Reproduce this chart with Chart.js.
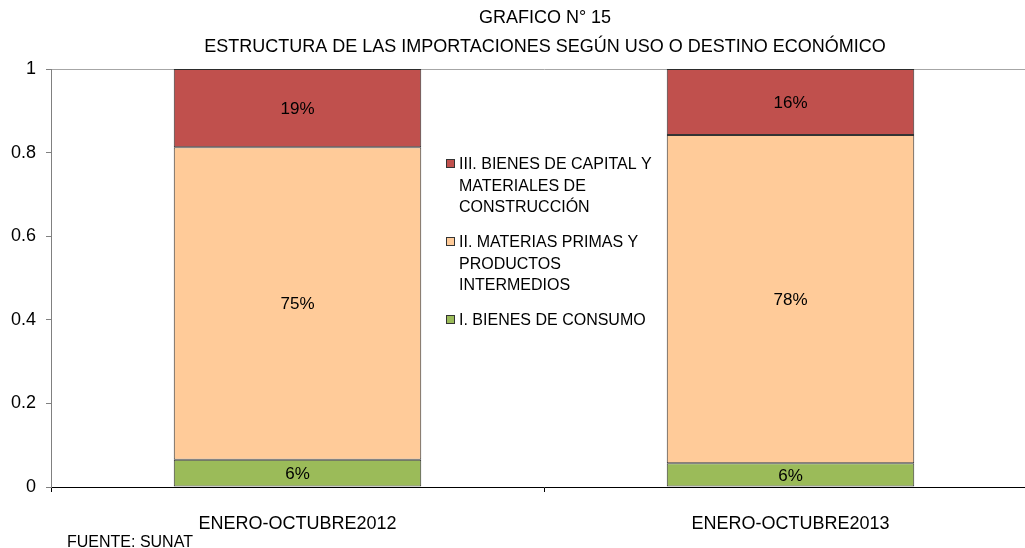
<!DOCTYPE html>
<html>
<head>
<meta charset="utf-8">
<script src="https://cdn.jsdelivr.net/npm/chart.js@4.4.0/dist/chart.umd.min.js"></script>
<style>
html,body{margin:0;padding:0;background:#fff;overflow:hidden;}
#wrap{position:relative;width:1045px;height:548px;}
</style>
</head>
<body>
<div id="wrap"><canvas id="c" width="1045" height="548"></canvas></div>
<script>
const categories = ['ENERO-OCTUBRE2012', 'ENERO-OCTUBRE2013'];
const consumo = [0.065, 0.057];
const materias = [0.748, 0.785];
const capital = [0.187, 0.158];
const labelsConsumo = ['6%', '6%'];
const labelsMaterias = ['75%', '78%'];
const labelsCapital = ['19%', '16%'];
const yTicks = [0, 0.2, 0.4, 0.6, 0.8, 1];
const titleLines = ['GRAFICO N° 15', 'ESTRUCTURA DE LAS IMPORTACIONES SEGÚN USO O DESTINO ECONÓMICO'];
const legendEntries = [
  ['III. BIENES DE CAPITAL Y', 'MATERIALES DE', 'CONSTRUCCIÓN'],
  ['II. MATERIAS PRIMAS Y', 'PRODUCTOS', 'INTERMEDIOS'],
  ['I. BIENES DE CONSUMO']
];
const source = 'FUENTE: SUNAT';

const FONT = '"Liberation Sans", Arial, sans-serif';
const colors = ['#9BBB59', '#FFCB99', '#C0504D'];

const overlay = {
  id: 'overlay',
  afterDatasetsDraw(chart) {
    const ctx = chart.ctx;
    ctx.save();
    ctx.fillStyle = '#000';
    ctx.font = '17px ' + FONT;
    ctx.textAlign = 'center';
    ctx.textBaseline = 'middle';
    const lbls = [labelsConsumo, labelsMaterias, labelsCapital];
    chart.data.datasets.forEach((ds, di) => {
      const meta = chart.getDatasetMeta(di);
      meta.data.forEach((bar, i) => {
        const p = bar.getProps(['x', 'y', 'base'], true);
        ctx.fillText(lbls[di][i], p.x, (p.y + p.base) / 2 + 1);
      });
    });
    ctx.restore();
  },
  afterDraw(chart) {
    const ctx = chart.ctx;
    const ca = chart.chartArea;
    ctx.save();
    ctx.fillStyle = '#000';
    ctx.font = '18px ' + FONT;
    ctx.textAlign = 'center';
    ctx.textBaseline = 'middle';
    const cx = (ca.left + ca.right) / 2 + 1;
    ctx.fillText(titleLines[0], cx, 18);
    ctx.fillText(titleLines[1], cx, 47);
    // legend
    ctx.font = '16px ' + FONT;
    ctx.textAlign = 'left';
    const legColors = [colors[2], colors[1], colors[0]];
    const starts = [165, 243, 321];
    legendEntries.forEach((lines, k) => {
      const y0 = starts[k];
      ctx.fillStyle = legColors[k];
      ctx.fillRect(446.5, y0 - 5.5, 8, 8);
      ctx.strokeStyle = '#333';
      ctx.lineWidth = 1;
      ctx.strokeRect(446.5, y0 - 5.5, 8, 8);
      ctx.fillStyle = '#000';
      lines.forEach((t, j) => ctx.fillText(t, 459, y0 + j * 21.5));
    });
    ctx.textBaseline = 'top';
    ctx.fillText(source, 67, 535);
    ctx.restore();
  }
};

new Chart(document.getElementById('c'), {
  type: 'bar',
  data: {
    labels: categories,
    datasets: [
      { label: 'I. BIENES DE CONSUMO', data: consumo, backgroundColor: colors[0] },
      { label: 'II. MATERIAS PRIMAS Y PRODUCTOS INTERMEDIOS', data: materias, backgroundColor: colors[1] },
      { label: 'III. BIENES DE CAPITAL Y MATERIALES DE CONSTRUCCIÓN', data: capital, backgroundColor: colors[2] }
    ].map(d => Object.assign(d, { borderColor: 'rgba(30,30,30,0.9)', borderWidth: 1, borderSkipped: false, categoryPercentage: 1, barPercentage: 0.502 }))
  },
  options: {
    responsive: false,
    animation: false,
    devicePixelRatio: 1,
    layout: { padding: { top: 69, right: 8, left: 0, bottom: 0 } },
    plugins: { legend: { display: false }, title: { display: false }, tooltip: { enabled: false } },
    scales: {
      x: {
        stacked: true,
        offset: true,
        grid: { offset: true, drawOnChartArea: false, color: '#000', tickLength: 5 },
        border: { color: '#000', width: 1 },
        ticks: { color: '#000', font: { family: FONT, size: 18 }, padding: 21, maxRotation: 0 },
        afterFit(s) { s.height = 61; }
      },
      y: {
        stacked: true,
        min: 0, max: 1,
        afterBuildTicks(s) { s.ticks = yTicks.map(v => ({ value: v })); },
        grid: {
          color: c => (c.tick && c.tick.value === 1) ? '#A6A6A6' : 'rgba(0,0,0,0)',
          tickColor: '#808080',
          tickLength: 5,
          lineWidth: 1
        },
        border: { color: '#808080', width: 1 },
        ticks: { color: '#000', font: { family: FONT, size: 18 }, padding: 10, callback: v => String(v) },
        afterFit(s) { s.width = 51; }
      }
    }
  },
  plugins: [overlay]
});
</script>
</body>
</html>
